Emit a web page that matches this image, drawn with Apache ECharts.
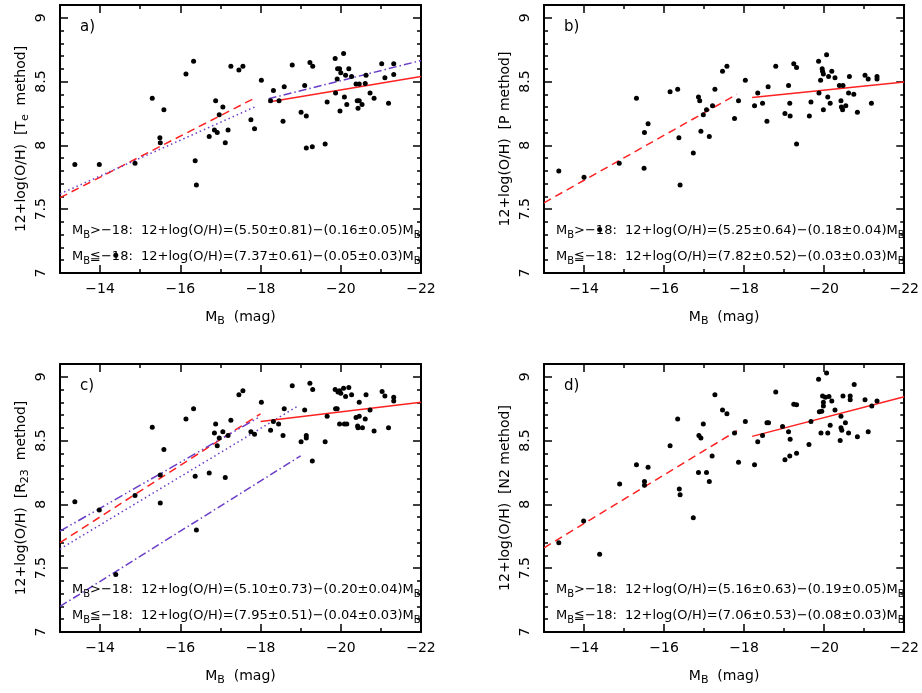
<!DOCTYPE html>
<html><head><meta charset="utf-8">
<script src="https://cdn.jsdelivr.net/npm/echarts@6/dist/echarts.min.js"></script>
<style>html,body{margin:0;padding:0;background:#fff}#c{width:922px;height:693px}</style>
</head><body><div id="c"></div>
<script>
// ---- data (M_B, 12+log(O/H)) ----
const teData = [[-13.37,7.85],[-13.98,7.85],[-14.39,7.14],[-14.87,7.86],[-15.30,8.37],[-15.49,8.06],[-15.50,8.02],[-15.59,8.28],[-16.14,8.56],[-16.33,8.66],[-16.37,7.88],[-16.40,7.69],[-16.72,8.07],[-16.85,8.12],[-16.88,8.35],[-16.92,8.10],[-16.97,8.24],[-17.06,8.30],[-17.12,8.02],[-17.19,8.12],[-17.26,8.62],[-17.46,8.59],[-17.56,8.62],[-17.76,8.20],[-17.85,8.13],[-18.02,8.51],[-18.25,8.35],[-18.32,8.43],[-18.46,8.35],[-18.56,8.19],[-18.59,8.46],[-18.79,8.63],[-19.01,8.26],[-19.10,8.47],[-19.14,8.23],[-19.14,7.98],[-19.23,8.65],[-19.29,7.99],[-19.30,8.62],[-19.61,8.01],[-19.66,8.34],[-19.86,8.68],[-19.87,8.41],[-19.91,8.52],[-19.92,8.60],[-19.97,8.60],[-20.00,8.57],[-19.98,8.27],[-20.07,8.72],[-20.09,8.38],[-20.12,8.55],[-20.15,8.32],[-20.20,8.60],[-20.27,8.54],[-20.38,8.48],[-20.41,8.35],[-20.43,8.29],[-20.46,8.48],[-20.46,8.35],[-20.53,8.32],[-20.61,8.485],[-20.63,8.55],[-20.73,8.41],[-20.83,8.37],[-21.02,8.64],[-21.10,8.53],[-21.19,8.33],[-21.32,8.64],[-21.32,8.555]];
const pData = [[-13.37,7.80],[-14.00,7.75],[-14.39,7.34],[-14.88,7.86],[-15.31,8.37],[-15.51,8.10],[-15.50,7.82],[-15.60,8.17],[-16.15,8.42],[-16.34,8.44],[-16.37,8.06],[-16.40,7.69],[-16.73,7.94],[-16.86,8.38],[-16.89,8.35],[-16.92,8.11],[-16.98,8.24],[-17.06,8.28],[-17.13,8.07],[-17.21,8.31],[-17.27,8.44],[-17.46,8.58],[-17.57,8.62],[-17.76,8.21],[-17.86,8.35],[-18.03,8.51],[-18.26,8.31],[-18.34,8.41],[-18.46,8.33],[-18.57,8.19],[-18.60,8.46],[-18.79,8.62],[-19.02,8.25],[-19.11,8.47],[-19.14,8.33],[-19.15,8.23],[-19.24,8.64],[-19.31,8.61],[-19.31,8.01],[-19.63,8.23],[-19.67,8.34],[-19.86,8.66],[-19.87,8.41],[-19.91,8.51],[-19.95,8.60],[-19.96,8.58],[-19.98,8.56],[-19.98,8.28],[-20.06,8.71],[-20.09,8.38],[-20.11,8.54],[-20.15,8.33],[-20.19,8.58],[-20.27,8.53],[-20.38,8.47],[-20.42,8.35],[-20.43,8.30],[-20.46,8.28],[-20.47,8.47],[-20.54,8.31],[-20.61,8.41],[-20.63,8.54],[-20.74,8.40],[-20.83,8.26],[-21.02,8.55],[-21.10,8.52],[-21.18,8.33],[-21.32,8.54],[-21.32,8.52]];
const r23Data = [[-13.37,8.02],[-13.98,7.955],[-14.39,7.45],[-14.87,8.07],[-15.30,8.605],[-15.50,8.23],[-15.50,8.01],[-15.59,8.43],[-16.14,8.67],[-16.33,8.75],[-16.37,8.22],[-16.40,7.80],[-16.72,8.245],[-16.85,8.56],[-16.88,8.63],[-16.92,8.46],[-16.97,8.52],[-17.06,8.57],[-17.12,8.21],[-17.19,8.54],[-17.26,8.66],[-17.46,8.86],[-17.56,8.89],[-17.76,8.57],[-17.85,8.55],[-18.02,8.80],[-18.25,8.58],[-18.32,8.65],[-18.45,8.63],[-18.56,8.54],[-18.59,8.75],[-18.79,8.93],[-19.01,8.49],[-19.10,8.74],[-19.14,8.54],[-19.14,8.52],[-19.23,8.95],[-19.29,8.34],[-19.30,8.90],[-19.61,8.49],[-19.66,8.69],[-19.86,8.90],[-19.87,8.75],[-19.91,8.75],[-19.93,8.88],[-19.97,8.89],[-20.00,8.87],[-19.97,8.63],[-20.07,8.91],[-20.09,8.63],[-20.12,8.845],[-20.15,8.63],[-20.20,8.915],[-20.27,8.86],[-20.38,8.68],[-20.42,8.615],[-20.43,8.60],[-20.46,8.80],[-20.46,8.69],[-20.54,8.60],[-20.61,8.67],[-20.63,8.86],[-20.73,8.74],[-20.83,8.575],[-21.03,8.885],[-21.10,8.85],[-21.19,8.60],[-21.32,8.84],[-21.32,8.81]];
const n2Data = [[-13.37,7.70],[-13.99,7.87],[-14.39,7.61],[-14.89,8.16],[-15.31,8.31],[-15.51,8.18],[-15.51,8.15],[-15.60,8.29],[-16.15,8.46],[-16.34,8.67],[-16.38,8.12],[-16.40,8.075],[-16.73,7.895],[-16.86,8.25],[-16.87,8.54],[-16.92,8.52],[-16.98,8.63],[-17.06,8.25],[-17.13,8.18],[-17.20,8.38],[-17.27,8.86],[-17.46,8.74],[-17.57,8.71],[-17.76,8.56],[-17.86,8.33],[-18.03,8.65],[-18.26,8.31],[-18.34,8.49],[-18.46,8.54],[-18.57,8.64],[-18.61,8.64],[-18.79,8.88],[-18.96,8.61],[-19.02,8.35],[-19.11,8.57],[-19.14,8.38],[-19.15,8.51],[-19.24,8.785],[-19.31,8.78],[-19.31,8.40],[-19.62,8.47],[-19.67,8.65],[-19.86,8.98],[-19.88,8.725],[-19.92,8.56],[-19.94,8.73],[-19.96,8.85],[-19.98,8.80],[-19.98,8.77],[-20.06,9.03],[-20.03,8.84],[-20.09,8.56],[-20.12,8.845],[-20.15,8.62],[-20.19,8.81],[-20.27,8.74],[-20.40,8.50],[-20.42,8.69],[-20.42,8.60],[-20.44,8.58],[-20.47,8.85],[-20.53,8.64],[-20.61,8.56],[-20.65,8.85],[-20.65,8.82],[-20.75,8.94],[-20.83,8.53],[-21.02,8.82],[-21.10,8.57],[-21.19,8.77],[-21.32,8.81]];

// ---- fit lines (endpoints) ----
const teFaintRed = [[-13,7.59],[-17.85,8.37]];
const teFaintPurple = [[-13,7.62],[-17.85,8.30]];
const teBrightRed = [[-18.2,8.34],[-22,8.54]];
const teBrightPurple = [[-18.2,8.365],[-22,8.665]];
const pFaintRed = [[-13,7.55],[-17.82,8.40]];
const pBrightRed = [[-18.2,8.375],[-22,8.497]];
const r23FaintRed = [[-13,7.70],[-18.0,8.71]];
const r23PurpleUpper = [[-13,7.79],[-18.0,8.69]];
const r23PurpleDotted = [[-13,7.65],[-18.9,8.765]];
const r23PurpleLower = [[-13,7.20],[-19.0,8.38]];
const r23BrightRed = [[-18.0,8.65],[-22,8.80]];
const n2FaintRed = [[-13,7.66],[-17.82,8.577]];
const n2BrightRed = [[-18.2,8.533],[-22,8.844]];

// ---- text ----
const panelLabels = ['a)','b)','c)','d)'];
const yNames = ['T|e','P','R|23','N2'];
const eqFaint = ['(5.50±0.81)−(0.16±0.05)','(5.25±0.64)−(0.18±0.04)','(5.10±0.73)−(0.20±0.04)','(5.16±0.63)−(0.19±0.05)'];
const eqBright = ['(7.37±0.61)−(0.05±0.03)','(7.82±0.52)−(0.03±0.03)','(7.95±0.51)−(0.04±0.03)','(7.06±0.53)−(0.08±0.03)'];
const xTicks = [-22,-20,-18,-16,-14];

const FONT = 'DejaVu Sans';
const RED = '#ff2020', PUR = '#6a3cc8';
const gridPos = [[60,5],[544,5],[60,364],[544,364]];
const GW = 361, GH = 268;

const chart = echarts.init(document.getElementById('c'), null, {renderer:'canvas'});
const lineCol = '#000';
const fmtX = v => (xTicks.indexOf(v) >= 0 ? (v < 0 ? '\u2212' + Math.abs(v) : String(v)) : '');
const fmtY = v => (v > 9.05 ? '' : String(v));

const subRich = (fs) => ({
  t: {fontFamily: FONT, fontSize: fs, lineHeight: fs + 6, color: '#000'},
  s: {fontFamily: FONT, fontSize: Math.round(fs * 0.75), lineHeight: Math.round(fs * 0.75), verticalAlign: 'bottom', color: '#000'}
});

const grids = [], xAxes = [], yAxes = [], series = [], graphics = [];
const TW = 1.5;
gridPos.forEach((g, i) => {
  grids.push({left: g[0], top: g[1], width: GW, height: GH, containLabel: false});
  const xb = {gridIndex: i, type: 'value', min: -22, max: -13, inverse: true, splitLine: {show: false}};
  const axLine = {show: true, onZero: false, lineStyle: {color: lineCol, width: 2}};
  const noLine = {show: false, onZero: false};
  xAxes.push(Object.assign({}, xb, {position: 'bottom', interval: 2, axisLine: axLine,
    axisTick: {inside: true, length: 8, lineStyle: {color: lineCol, width: TW}},
    axisLabel: {formatter: fmtX, margin: 9, fontFamily: FONT, fontSize: 14, color: '#000', showMinLabel: true, showMaxLabel: true},
    name: '{t|M}{s|B}{t|  (mag)}', nameLocation: 'middle', nameGap: 34,
    nameTextStyle: {rich: subRich(14)}}));
  xAxes.push(Object.assign({}, xb, {position: 'bottom', interval: 1, axisLine: noLine,
    axisTick: {inside: true, length: 4, lineStyle: {color: lineCol, width: TW}}, axisLabel: {show: false}}));
  xAxes.push(Object.assign({}, xb, {position: 'top', interval: 2, axisLine: axLine,
    axisTick: {inside: true, length: 8, lineStyle: {color: lineCol, width: TW}}, axisLabel: {show: false}}));
  xAxes.push(Object.assign({}, xb, {position: 'top', interval: 1, axisLine: noLine,
    axisTick: {inside: true, length: 4, lineStyle: {color: lineCol, width: TW}}, axisLabel: {show: false}}));

  const yb = {gridIndex: i, type: 'value', min: 7, max: 9.1, splitLine: {show: false}};
  const yn = yNames[i].split('|');
  const yName = '{t|12+log(O/H)  [' + yn[0] + '}' + (yn[1] ? '{s|' + yn[1] + '}{t|  method]}' : '{t| method]}');
  yAxes.push(Object.assign({}, yb, {position: 'left', interval: 0.5, axisLine: axLine,
    axisTick: {inside: true, length: 8, lineStyle: {color: lineCol, width: TW}},
    axisLabel: {formatter: fmtY, rotate: 90, margin: 12, fontFamily: FONT, fontSize: 14, color: '#000'},
    name: yName, nameLocation: 'middle', nameGap: 29, nameTextStyle: {rich: subRich(14)}}));
  yAxes.push(Object.assign({}, yb, {position: 'left', interval: 0.1, axisLine: noLine,
    axisTick: {inside: true, length: 4, lineStyle: {color: lineCol, width: TW}}, axisLabel: {show: false}}));
  yAxes.push(Object.assign({}, yb, {position: 'right', interval: 0.5, axisLine: axLine,
    axisTick: {inside: true, length: 8, lineStyle: {color: lineCol, width: TW}}, axisLabel: {show: false}}));
  yAxes.push(Object.assign({}, yb, {position: 'right', interval: 0.1, axisLine: noLine,
    axisTick: {inside: true, length: 4, lineStyle: {color: lineCol, width: TW}}, axisLabel: {show: false}}));

  // panel label + equations
  graphics.push({type: 'text', x: g[0] + 20, y: g[1] + 22, z: 100,
    style: {text: panelLabels[i], font: '15px "' + FONT + '"', fill: '#000', verticalAlign: 'middle'}});
  graphics.push({type: 'text', x: g[0] + 12, y: g[1] + GH - 42, z: 100,
    style: {text: '{t|M}{s|B}{t|>\u221218:  12+log(O/H)=' + eqFaint[i] + 'M}{s|B}', rich: subRich(13), verticalAlign: 'middle', align: 'left'}});
  graphics.push({type: 'text', x: g[0] + 12, y: g[1] + GH - 16, z: 100,
    style: {text: '{t|M}{s|B}{t|\u2266\u221218:  12+log(O/H)=' + eqBright[i] + 'M}{s|B}', rich: subRich(13), verticalAlign: 'middle', align: 'left'}});
});

const xi = i => i * 4, yi = i => i * 4;
function fitLine(i, data, color, dash, w) {
  series.push({type: 'line', xAxisIndex: xi(i), yAxisIndex: yi(i), data: data, symbol: 'none', silent: true, z: 3,
    lineStyle: {color: color, width: w || 1.5, type: dash}, animation: false});
}
function pts(i, data) {
  series.push({type: 'scatter', xAxisIndex: xi(i), yAxisIndex: yi(i), data: data, symbol: 'circle', symbolSize: 5,
    itemStyle: {color: '#000', opacity: 1}, z: 4, animation: false});
}
const DASH = [8, 5], DOT = [1.5, 3], DASHDOT = [8, 3, 1.5, 3], DASHDOT3 = [9, 3, 1.5, 3, 1.5, 3];
pts(0, teData);
fitLine(0, teFaintRed, RED, DASH);
fitLine(0, teFaintPurple, PUR, DOT);
fitLine(0, teBrightRed, RED, 'solid');
fitLine(0, teBrightPurple, PUR, DASHDOT);
pts(1, pData);
fitLine(1, pFaintRed, RED, DASH);
fitLine(1, pBrightRed, RED, 'solid');
pts(2, r23Data);
fitLine(2, r23FaintRed, RED, DASH);
fitLine(2, r23PurpleUpper, PUR, DASHDOT3);
fitLine(2, r23PurpleDotted, PUR, DOT);
fitLine(2, r23PurpleLower, PUR, DASHDOT);
fitLine(2, r23BrightRed, RED, 'solid');
pts(3, n2Data);
fitLine(3, n2FaintRed, RED, DASH);
fitLine(3, n2BrightRed, RED, 'solid');

chart.setOption({backgroundColor: '#fff', animation: false, grid: grids, xAxis: xAxes, yAxis: yAxes, series: series, graphic: graphics});
</script></body></html>
